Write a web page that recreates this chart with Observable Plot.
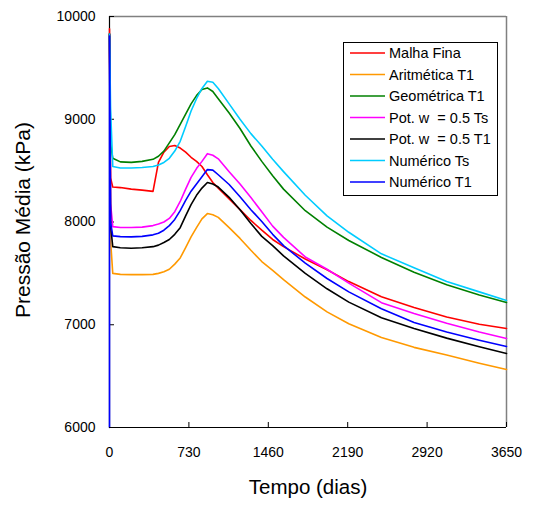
<!DOCTYPE html>
<html>
<head>
<meta charset="utf-8">
<script src="https://cdn.jsdelivr.net/npm/d3@7"></script>
<script src="https://cdn.jsdelivr.net/npm/@observablehq/plot@0.6"></script>
<style>
  html, body { margin: 0; padding: 0; background: #fff; }
  #chart { position: relative; width: 533px; height: 507px; font-family: "Liberation Sans", Arial, sans-serif; }
  #chart svg { display: block; }
</style>
</head>
<body>
<div id="chart"></div>
<script>
// Time grid (days) shared by all series
const days = [0, 0, 10, 30, 100, 200, 300, 400, 450, 500, 550, 600, 650, 700, 750, 800, 850, 900, 950, 1000, 1100, 1200, 1300, 1400, 1500, 1600, 1800, 2000, 2200, 2500, 2800, 3100, 3400, 3650];

// Series values (kPa)
const malhaFina   = [9880, 9880, 8430, 8340, 8335, 8320, 8310, 8298, 8580, 8680, 8735, 8745, 8720, 8680, 8630, 8590, 8540, 8460, 8385, 8330, 8225, 8120, 8015, 7920, 7830, 7760, 7640, 7535, 7420, 7272, 7168, 7075, 7005, 6963];
const aritmetica  = [9830, 9830, 7820, 7500, 7490, 7488, 7488, 7490, 7500, 7515, 7540, 7590, 7650, 7750, 7855, 7945, 8030, 8082, 8070, 8045, 7945, 7840, 7725, 7615, 7530, 7440, 7270, 7125, 7010, 6875, 6780, 6705, 6625, 6564];
const geometrica  = [9830, 9830, 8760, 8620, 8585, 8580, 8590, 8610, 8640, 8690, 8770, 8850, 8950, 9050, 9150, 9230, 9290, 9305, 9270, 9200, 9060, 8910, 8740, 8590, 8450, 8320, 8110, 7950, 7820, 7655, 7510, 7390, 7290, 7217];
const potTs       = [9830, 9830, 8180, 7955, 7947, 7947, 7950, 7965, 7980, 8000, 8035, 8100, 8200, 8320, 8435, 8520, 8590, 8665, 8650, 8615, 8490, 8370, 8238, 8100, 7960, 7850, 7660, 7540, 7405, 7215, 7110, 7015, 6930, 6866];
const potT1       = [9830, 9830, 7960, 7760, 7750, 7745, 7750, 7760, 7775, 7800, 7830, 7880, 7945, 8060, 8170, 8260, 8330, 8385, 8370, 8340, 8240, 8120, 7985, 7860, 7770, 7670, 7500, 7350, 7220, 7068, 6963, 6870, 6785, 6720];
const numericoTs  = [9830, 9830, 9100, 8540, 8525, 8525, 8530, 8540, 8555, 8580, 8620, 8690, 8785, 8930, 9080, 9200, 9300, 9370, 9360, 9300, 9150, 9000, 8860, 8740, 8610, 8490, 8260, 8060, 7900, 7690, 7555, 7420, 7320, 7236];
const numericoT1  = [6000, 9810, 8000, 7865, 7858, 7855, 7860, 7875, 7890, 7920, 7965, 8025, 8110, 8210, 8300, 8370, 8440, 8510, 8505, 8460, 8365, 8245, 8120, 8005, 7880, 7770, 7600, 7450, 7320, 7155, 7022, 6930, 6850, 6788];

const seriesNames  = ["Malha Fina", "Aritmética T1", "Geométrica T1", "Pot. w  = 0.5 Ts", "Pot. w  = 0.5 T1", "Numérico Ts", "Numérico T1"];
const seriesValues = [malhaFina, aritmetica, geometrica, potTs, potT1, numericoTs, numericoT1];
const seriesColors = ["#ff0000", "#ff9900", "#008000", "#ff00ff", "#000000", "#00ccff", "#0000ff"];

const xTicks = [0, 730, 1460, 2190, 2920, 3650];
const yTicks = [6000, 7000, 8000, 9000, 10000];

const rows = seriesNames.flatMap((name, s) =>
  days.map((d, i) => ({series: name, day: d, p: seriesValues[s][i]})));

const W = 533, H = 507;
const mL = 109, mR = 27, mT = 16, mB = 80;
const plotW = W - mL - mR, plotH = H - mT - mB;
const tick = 5;
const font = "Liberation Sans, Arial, sans-serif";

const chart = Plot.plot({
  width: W,
  height: H,
  marginLeft: mL,
  marginRight: mR,
  marginTop: mT,
  marginBottom: mB,
  style: {fontFamily: font, fontSize: "14px", background: "#fff", color: "#000"},
  x: {domain: [0, 3650]},
  y: {domain: [6000, 10000]},
  color: {domain: seriesNames, range: seriesColors},
  marks: [
    // plot-area border (top/right in grey)
    Plot.ruleY([10000], {stroke: "#808080", strokeWidth: 1.5}),
    Plot.ruleX([3650], {stroke: "#808080", strokeWidth: 1.5}),
    // left axis line
    Plot.ruleX([0], {stroke: "#000", strokeWidth: 1.2}),
    // inward ticks
    Plot.tickX(xTicks, {x: d => d, insetTop: plotH - tick, stroke: "#000", strokeWidth: 1}),
    Plot.tickY(yTicks, {y: d => d, insetRight: plotW - tick, stroke: "#000", strokeWidth: 1}),
    // series
    Plot.line(rows, {x: "day", y: "p", z: "series", stroke: "series", strokeWidth: 1.6, curve: "linear"}),
    // bottom axis line
    Plot.ruleY([6000], {stroke: "#000", strokeWidth: 1.2}),
    // tick labels
    Plot.axisX(xTicks, {tickSize: 0, tickPadding: 20, tickFormat: d => String(d), label: null, fontSize: 14, fill: "#000"}),
    Plot.axisY(yTicks, {tickSize: 0, tickPadding: 14, tickFormat: d => String(d), label: null, fontSize: 14, fill: "#000"}),
    // axis titles
    Plot.text(["Tempo (dias)"], {frameAnchor: "bottom", dy: 66, fontSize: 20.5, fill: "#000", text: d => d}),
    Plot.text(["Pressão Média (kPa)"], {frameAnchor: "left", textAnchor: "middle", lineAnchor: "middle", dx: -86, dy: -2, rotate: -90, fontSize: 21, fill: "#000", text: d => d})
  ]
});

const container = document.getElementById("chart");
container.appendChild(chart);

// Legend overlay
const lg = d3.select(container).append("svg")
  .attr("width", W).attr("height", H)
  .style("position", "absolute").style("left", "0px").style("top", "0px")
  .style("font-family", font);

const lx = 343.5, ly = 42.5, lw = 154, lh = 153;
lg.append("rect").attr("x", lx).attr("y", ly).attr("width", lw).attr("height", lh)
  .attr("fill", "#fff").attr("stroke", "#000").attr("stroke-width", 1);

seriesNames.forEach((name, i) => {
  const cy = 53 + i * 21.5;
  lg.append("line").attr("x1", 350).attr("x2", 385).attr("y1", cy).attr("y2", cy)
    .attr("stroke", seriesColors[i]).attr("stroke-width", 1.6);
  lg.append("text").attr("x", 389).attr("y", cy).attr("dy", "0.35em")
    .attr("font-size", 14.5).attr("fill", "#000")
    .style("white-space", "pre")
    .text(name);
});
</script>
</body>
</html>
